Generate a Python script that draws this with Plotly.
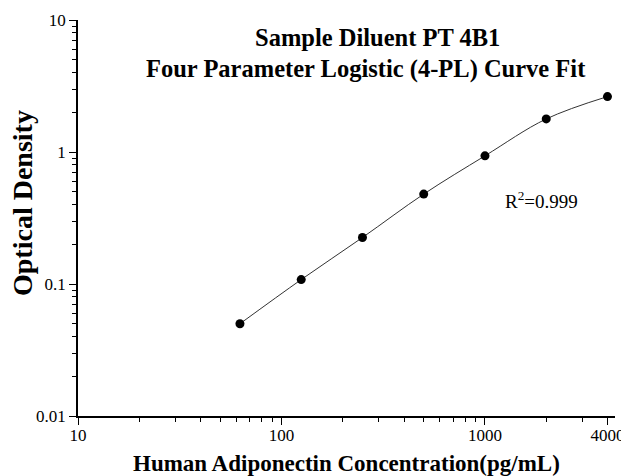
import plotly.graph_objects as go

concentration = [62.5, 125, 250, 500, 1000, 2000, 4000]
optical_density = [0.050, 0.108, 0.225, 0.480, 0.935, 1.78, 2.63]

x_tick_vals = [10, 100, 1000, 4000]
x_tick_text = ["10", "100", "1000", "4000"]
y_tick_vals = [0.01, 0.1, 1, 10]
y_tick_text = ["0.01", "0.1", "1", "10"]

x_minor = [m * 10 ** e for e in (1, 2) for m in range(2, 10)] + [2000, 3000]
y_minor = [m * 10.0 ** e for e in (-2, -1, 0) for m in range(2, 10)]

title_lines = ["Sample Diluent PT 4B1", "Four Parameter Logistic (4-PL) Curve Fit"]
x_title = "Human Adiponectin Concentration(pg/mL)"
y_title = "Optical Density"
r2_text = "R<sup>2</sup>=0.999"

FONT = "Liberation Serif"
OFF = 8  # page body margin
W, H = 629 - OFF, 476 - OFF
L, R, T, B = 78 - OFF, 14, 20 - OFF, 60
PW, PH = W - L - R, H - T - B


def px(x):
    return (x - OFF - L) / PW


def py(y):
    return (H - B - (y - OFF)) / PH


fig = go.Figure()
fig.add_trace(go.Scatter(
    x=concentration, y=optical_density,
    mode="lines+markers",
    line=dict(shape="spline", smoothing=1.0, color="#333333", width=1),
    marker=dict(color="black", size=9),
    showlegend=False,
))

fig.update_layout(
    width=W, height=H,
    margin=dict(l=L, r=R, t=T, b=B, autoexpand=False),
    paper_bgcolor="white", plot_bgcolor="white",
    font=dict(family=FONT, color="black"),
    xaxis=dict(
        type="log", range=[1, 3.639], automargin=False,
        tickvals=x_tick_vals, ticktext=x_tick_text,
        ticks="outside", ticklen=7, tickwidth=1.2, tickcolor="black",
        minor=dict(tickvals=x_minor, ticks="outside", ticklen=4, tickwidth=1, tickcolor="black", showgrid=False),
        showline=True, linecolor="black", linewidth=1.5,
        showgrid=False, zeroline=False,
        tickfont=dict(family=FONT, size=17),
        ticklabelstandoff=-4,
    ),
    yaxis=dict(
        type="log", range=[-2, 1], automargin=False,
        tickvals=y_tick_vals, ticktext=y_tick_text,
        ticks="outside", ticklen=7, tickwidth=1.2, tickcolor="black",
        minor=dict(tickvals=y_minor, ticks="outside", ticklen=4, tickwidth=1, tickcolor="black", showgrid=False),
        showline=True, linecolor="black", linewidth=1.5,
        showgrid=False, zeroline=False,
        tickfont=dict(family=FONT, size=17),
    ),
    annotations=[
        dict(text="<b>" + title_lines[0] + "</b>", xref="paper", yref="paper",
             x=px(377), y=py(37), showarrow=False,
             font=dict(family=FONT, size=24.5), xanchor="center", yanchor="middle"),
        dict(text="<b>" + title_lines[1] + "</b>", xref="paper", yref="paper",
             x=px(366), y=py(69), showarrow=False,
             font=dict(family=FONT, size=24.5), xanchor="center", yanchor="middle"),
        dict(text=r2_text, xref="paper", yref="paper",
             x=px(541), y=py(200), showarrow=False,
             font=dict(family=FONT, size=19), xanchor="center", yanchor="middle"),
        dict(text="<b>" + x_title + "</b>", xref="paper", yref="paper",
             x=px(346), y=py(463), showarrow=False,
             font=dict(family=FONT, size=23), xanchor="center", yanchor="middle"),
        dict(text="<b>" + y_title + "</b>", xref="paper", yref="paper",
             x=px(22), y=py(203), showarrow=False, textangle=-90,
             font=dict(family=FONT, size=28), xanchor="center", yanchor="middle"),
    ],
)

fig.write_html("out.html")
